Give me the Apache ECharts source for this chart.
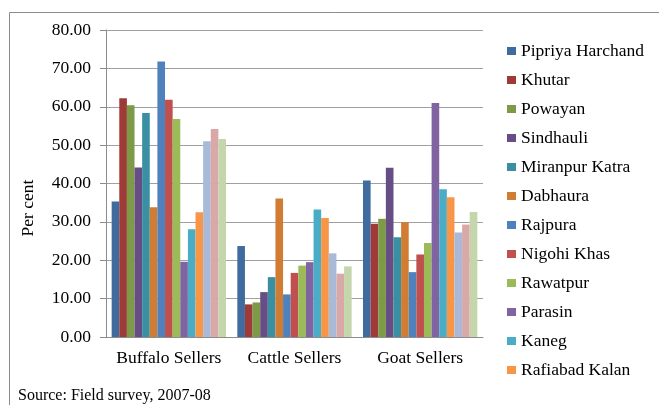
<!DOCTYPE html>
<html>
<head>
<meta charset="utf-8">
<script src="https://cdn.jsdelivr.net/npm/echarts@6/dist/echarts.min.js"></script>
<style>
  html, body { margin: 0; padding: 0; background: #fff; }
  #chart { width: 659px; height: 405px; }
</style>
</head>
<body>
<div id="chart"></div>
<script>
// Seller categories on the x axis
const categories = ['Buffalo Sellers', 'Cattle Sellers', 'Goat Sellers'];

// Village names (the first twelve appear in the legend)
const villages = [
  'Pipriya Harchand', 'Khutar', 'Powayan', 'Sindhauli', 'Miranpur Katra',
  'Dabhaura', 'Rajpura', 'Nigohi Khas', 'Rawatpur', 'Parasin', 'Kaneg',
  'Rafiabad Kalan', 'Village 13', 'Village 14', 'Village 15'
];
const legendVillages = villages.slice(0, 12);

// Per cent of sellers, per village, for each category
const buffaloSellers = [35.3, 62.2, 60.4, 44.2, 58.4, 33.8, 71.8, 61.8, 56.8, 19.6, 28.1, 32.5, 51.0, 54.2, 51.6];
const cattleSellers  = [23.7, 8.5, 9.0, 11.7, 15.6, 36.1, 11.1, 16.7, 18.6, 19.5, 33.2, 31.0, 21.8, 16.5, 18.4];
const goatSellers    = [40.8, 29.5, 30.8, 44.1, 26.0, 29.9, 16.9, 21.5, 24.5, 61.0, 38.5, 36.4, 27.2, 29.3, 32.6];

// Value axis ticks
const yMin = 0, yMax = 80, yStep = 10;

const colors = [
  '#3F6B9E', '#9E3B39', '#7D9A46', '#664E84', '#3A8FA3', '#D07D33',
  '#4F81BD', '#C0504D', '#9BBB59', '#8064A2', '#4BACC6', '#F79646',
  '#A9BAD8', '#D9A9A8', '#C6D6AC'
];

const font = '"Liberation Serif", "Times New Roman", serif';
const fs = 17.5;

const series = villages.map((name, i) => ({
  name: name,
  type: 'bar',
  data: [buffaloSellers[i], cattleSellers[i], goatSellers[i]],
  itemStyle: { color: colors[i] },
  barGap: '0%',
  barCategoryGap: '9%'
}));

const chart = echarts.init(document.getElementById('chart'), null, { renderer: 'canvas' });
chart.setOption({
  animation: false,
  textStyle: { fontFamily: font },
  grid: { left: 106, right: 176, top: 30, bottom: 68 },
  legend: {
    data: legendVillages,
    orient: 'vertical',
    left: 507,
    top: 42,
    padding: 0,
    itemWidth: 9,
    itemHeight: 8,
    itemGap: 11,
    itemTextGap: 4,
    icon: 'rect',
    textStyle: { fontFamily: font, fontSize: fs, color: '#000', lineHeight: 18 }
  },
  xAxis: {
    type: 'category',
    data: categories,
    axisLine: { lineStyle: { color: '#8c8c8c', width: 1 } },
    axisTick: { show: false },
    axisLabel: {
      fontFamily: font, fontSize: fs, color: '#000', margin: 12,
      interval: 0, hideOverlap: false
    }
  },
  yAxis: {
    type: 'value',
    min: yMin,
    max: yMax,
    interval: yStep,
    axisLine: { show: true, lineStyle: { color: '#8c8c8c', width: 1 } },
    axisTick: { show: true, length: 6, lineStyle: { color: '#8c8c8c' } },
    axisLabel: {
      fontFamily: font, fontSize: fs, color: '#000', margin: 15,
      formatter: v => v.toFixed(2)
    },
    splitLine: { lineStyle: { color: '#a0a0a0', width: 1 } }
  },
  graphic: [
    // frame lines along the top and left edges
    { type: 'line', shape: { x1: 9.5, y1: 12.5, x2: 659, y2: 12.5 }, style: { stroke: '#8c8c8c', lineWidth: 1 } },
    { type: 'line', shape: { x1: 9.5, y1: 12.5, x2: 9.5, y2: 405 }, style: { stroke: '#8c8c8c', lineWidth: 1 } },
    {
      type: 'text', x: 28, y: 208, rotation: Math.PI / 2,
      style: { text: 'Per cent', font: fs + 'px ' + font, fill: '#000', align: 'center', verticalAlign: 'middle' }
    },
    {
      type: 'text', left: 18, top: 388,
      style: { text: 'Source: Field survey, 2007-08', font: '16px ' + font, fill: '#000' }
    }
  ],
  series: series
});
</script>
</body>
</html>
